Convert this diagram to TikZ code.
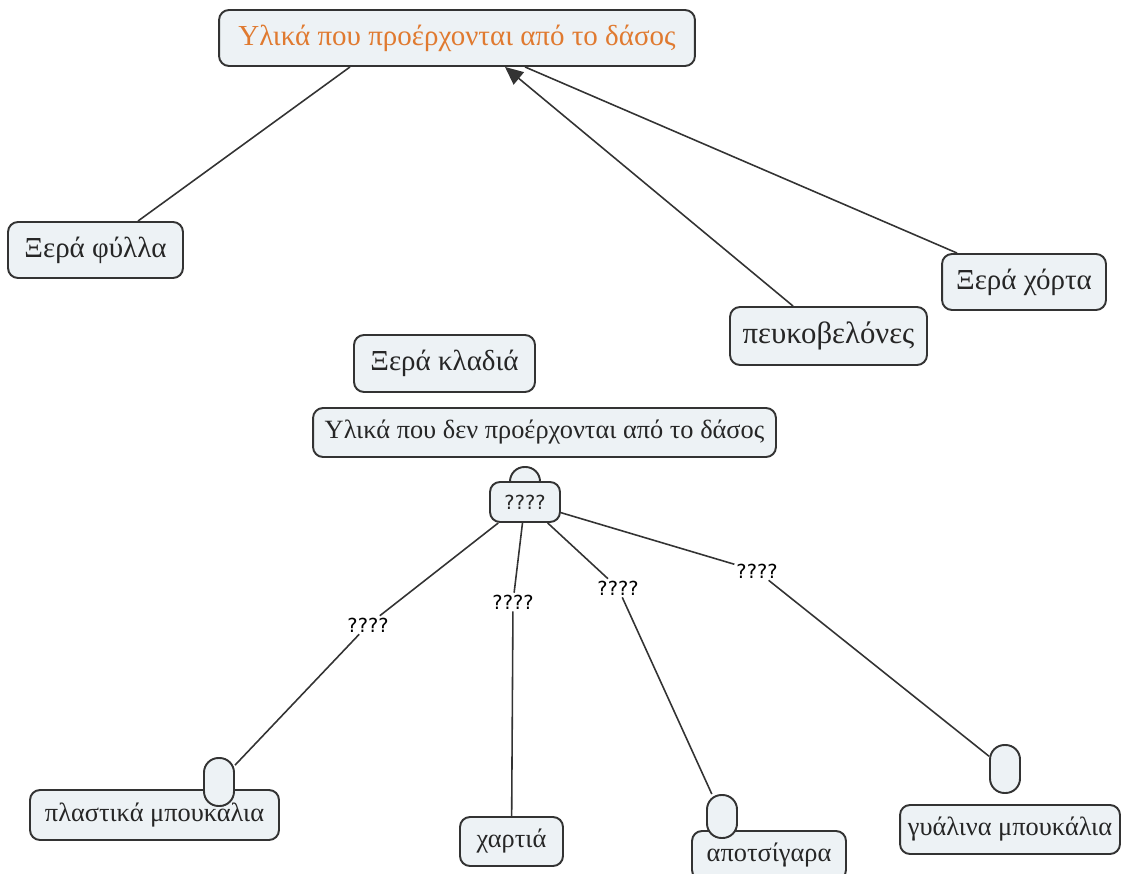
\documentclass[tikz,border=0pt]{standalone}
\usepackage{fontspec}
\setmainfont{Liberation Serif}
\newfontfamily\labelfont{DejaVu Sans}
\usetikzlibrary{arrows.meta}
\definecolor{boxfill}{HTML}{EDF2F5}
\definecolor{boxline}{HTML}{333333}
\definecolor{forestorange}{HTML}{E07A30}
\begin{document}
\begin{tikzpicture}[x=0.02cm,y=-0.02cm,
    concept/.style={draw=boxline,fill=boxfill,line width=1.1pt,rounded corners=0.2cm,inner sep=0pt,text=black!85,font=\fontsize{15}{18}\selectfont},
    bigconcept/.style={concept,font=\fontsize{16.5}{19}\selectfont},
    pill/.style={draw=boxline,fill=boxfill,line width=1.1pt,rounded corners=0.29cm,minimum width=0.6cm,inner sep=0pt},
    conn/.style={draw=boxline,line width=0.9pt},
    connlabel/.style={fill=white,inner sep=1pt,font=\labelfont\fontsize{11}{13}\selectfont}]
  \useasboundingbox (0,0) rectangle (1121,874);
  \node[bigconcept,minimum width=9.52cm,minimum height=1.12cm,text=forestorange] (forest) at (457,38) {Υλικά που προέρχονται από το δάσος};
  \node[bigconcept,minimum width=3.5cm,minimum height=1.12cm] (leaves) at (95.5,250) {Ξερά φύλλα};
  \node[bigconcept,minimum width=3.28cm,minimum height=1.12cm] (grass) at (1024,282) {Ξερά χόρτα};
  \node[bigconcept,minimum width=3.94cm,minimum height=1.16cm,font=\fontsize{17.5}{20}\selectfont] (needles) at (828.5,336) {πευκοβελόνες};
  \node[bigconcept,minimum width=3.62cm,minimum height=1.14cm] (twigs) at (444.5,363.5) {Ξερά κλαδιά};
  \node[concept,minimum width=9.26cm,minimum height=0.98cm] (nonforest) at (544.5,432.5) {Υλικά που δεν προέρχονται από το δάσος};
  \node[pill,minimum height=0.6cm] (relbump) at (525,482) {};
  \node[concept,minimum width=1.4cm,minimum height=0.8cm,font=\labelfont\fontsize{11}{13}\selectfont] (rel) at (525,502) {????};
  \node[concept,minimum width=4.98cm,minimum height=1cm] (plastic) at (154.5,815) {πλαστικά μπουκάλια};
  \node[pill,minimum height=0.96cm] (plasticpill) at (219,782) {};
  \node[concept,minimum width=2.06cm,minimum height=0.98cm] (paper) at (511.5,841.5) {χαρτιά};
  \node[concept,minimum width=3.08cm,minimum height=0.98cm] (butts) at (769,855.5) {αποτσίγαρα};
  \node[pill,minimum height=0.86cm] (buttspill) at (722,816.5) {};
  \node[concept,minimum width=4.4cm,minimum height=0.98cm] (glass) at (1010,829.5) {γυάλινα μπουκάλια};
  \node[pill,minimum height=0.96cm] (glasspill) at (1005,769) {};
  \node[connlabel] (l1) at (368,625) {????};
  \node[connlabel] (l2) at (513,602) {????};
  \node[connlabel] (l3) at (618,588) {????};
  \node[connlabel] (l4) at (757,571) {????};
  \draw[conn] ([xshift=0.85cm]leaves.north) -- ([xshift=-2.14cm]forest.south);
  \draw[conn,-{Triangle[length=0.36cm,width=0.32cm]}] ([xshift=-0.71cm]needles.north) -- ([xshift=0.96cm]forest.south);
  \draw[conn] ([xshift=-1.34cm]grass.north) -- ([xshift=1.36cm]forest.south);
  \draw[conn] (rel) -- (l1) -- (plasticpill);
  \draw[conn] (rel) -- (l2) -- (paper);
  \draw[conn] (rel) -- (l3) -- (buttspill);
  \draw[conn] (rel) -- (l4) -- (glasspill);
\end{tikzpicture}
\end{document}
